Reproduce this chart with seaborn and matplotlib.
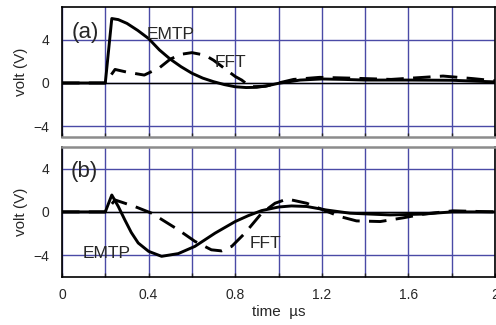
import seaborn as sns
import numpy as np
import matplotlib
matplotlib.use("Agg")
from matplotlib import pyplot as plt

# panel (a)
t_emtp_a = [0, 0.2, 0.23, 0.26, 0.3, 0.35, 0.4, 0.45, 0.5, 0.55, 0.6, 0.65, 0.7,
            0.75, 0.8, 0.85, 0.9, 0.95, 1.0, 1.1, 1.2, 1.3, 1.4, 1.6, 1.8, 2.0]
v_emtp_a = [0, 0, 5.95, 5.85, 5.5, 4.85, 4.1, 3.05, 2.2, 1.5, 0.9, 0.45, 0.12,
            -0.15, -0.35, -0.42, -0.4, -0.25, -0.03, 0.27, 0.37, 0.33, 0.27, 0.27, 0.25, 0.1]
t_fft_a = [0, 0.2, 0.245, 0.3, 0.38, 0.45, 0.5, 0.55, 0.6, 0.66, 0.7, 0.75, 0.8,
           0.83, 0.87, 0.94, 1.0, 1.07, 1.19, 1.33, 1.52, 1.67, 1.76, 1.9, 2.0]
v_fft_a = [0, 0, 1.25, 1.0, 0.73, 1.4, 2.2, 2.65, 2.8, 2.57, 2.1, 1.35, 0.6,
           0.27, -0.35, -0.3, 0.0, 0.33, 0.52, 0.45, 0.33, 0.52, 0.64, 0.4, 0.2]

# panel (b)
t_emtp_b = [0, 0.2, 0.23, 0.26, 0.29, 0.32, 0.352, 0.4, 0.46, 0.537, 0.614, 0.707,
            0.8, 0.86, 0.922, 1.0, 1.06, 1.13, 1.22, 1.33, 1.515, 1.67, 1.8, 2.0]
v_emtp_b = [0, 0, 1.56, 0.5, -0.73, -1.9, -2.87, -3.64, -4.1, -3.85, -3.18, -1.96,
            -0.89, -0.35, 0.12, 0.45, 0.55, 0.5, 0.18, -0.12, -0.28, -0.2, 0.0, 0.0]
t_fft_b = [0, 0.2, 0.245, 0.337, 0.414, 0.537, 0.614, 0.69, 0.737, 0.784, 0.845,
           0.922, 0.984, 1.04, 1.13, 1.207, 1.284, 1.36, 1.47, 1.575, 1.67, 1.806, 2.0]
v_fft_b = [0, 0, 1.1, 0.49, -0.12, -1.65, -2.72, -3.5, -3.6, -3.18, -1.96,
           -0.12, 0.8, 1.19, 0.8, 0.18, -0.43, -0.83, -0.89, -0.55, -0.2, 0.1, 0.0]

x_ticks = [0, 0.2, 0.4, 0.6, 0.8, 1.0, 1.2, 1.4, 1.6, 1.8, 2.0]
x_labels = ["0", "", "0.4", "", "0.8", "", "1.2", "", "1.6", "", "2"]
y_ticks = [-4, 0, 4]
y_labels = ["\u22124", "0", "4"]

sns.set_style("ticks")
plt.rcParams["font.family"] = ["Liberation Sans", "DejaVu Sans"]

fig = plt.figure(figsize=(4.96, 3.25), dpi=100)
ax_a = fig.add_axes([0.125, 0.578, 0.873, 0.4])
ax_b = fig.add_axes([0.125, 0.148, 0.873, 0.4])

grid_col = "#4a4aa6"
dash = (0, (6, 3.2))

panels = [
    (ax_a, t_emtp_a, v_emtp_a, t_fft_a, v_fft_a, (-5, 7), "(a)", (0.045, 4.7),
     (0.39, 4.1), (0.705, 1.5)),
    (ax_b, t_emtp_b, v_emtp_b, t_fft_b, v_fft_b, (-6, 6), "(b)", (0.04, 3.7),
     (0.095, -4.3), (0.868, -3.3)),
]

for ax, te, ve, tf, vf, ylim, tag, tag_pos, emtp_pos, fft_pos in panels:
    ax.set_xlim(0, 2)
    ax.set_ylim(*ylim)
    ax.set_xticks(x_ticks)
    ax.set_yticks(y_ticks)
    ax.grid(True, color=grid_col, lw=1.0)
    ax.axhline(0, color="black", lw=1.0, zorder=1.5)
    sns.lineplot(x=te, y=ve, ax=ax, color="black", lw=2.1, sort=False,
                 estimator=None, zorder=3)
    sns.lineplot(x=tf, y=vf, ax=ax, color="black", lw=2.1, sort=False,
                 estimator=None, linestyle=dash, zorder=3)
    ax.text(tag_pos[0], tag_pos[1], tag, fontsize=16, va="center", ha="left")
    ax.text(emtp_pos[0], emtp_pos[1], "EMTP", fontsize=12.5, va="baseline", ha="left")
    ax.text(fft_pos[0], fft_pos[1], "FFT", fontsize=12.5, va="baseline", ha="left")
    ax.set_yticklabels(y_labels, fontsize=10)
    ax.tick_params(axis="y", length=0, pad=9)
    ax.tick_params(axis="x", direction="in", length=3, width=1, pad=8)
    ax.set_ylabel("volt (V)", fontsize=11, labelpad=4)
    for s in ax.spines.values():
        s.set_color("black")
        s.set_linewidth(1.2)

ax_a.set_xticklabels([])
ax_a.spines["bottom"].set_color("#8c8c8c")
ax_a.spines["bottom"].set_linewidth(1.8)
ax_b.spines["top"].set_color("#8c8c8c")
ax_b.spines["top"].set_linewidth(1.8)
ax_b.set_xticklabels(x_labels, fontsize=10)
ax_b.set_xlabel("time  \u00b5s", fontsize=11, labelpad=2)

fig.savefig("out.png", dpi=100)
